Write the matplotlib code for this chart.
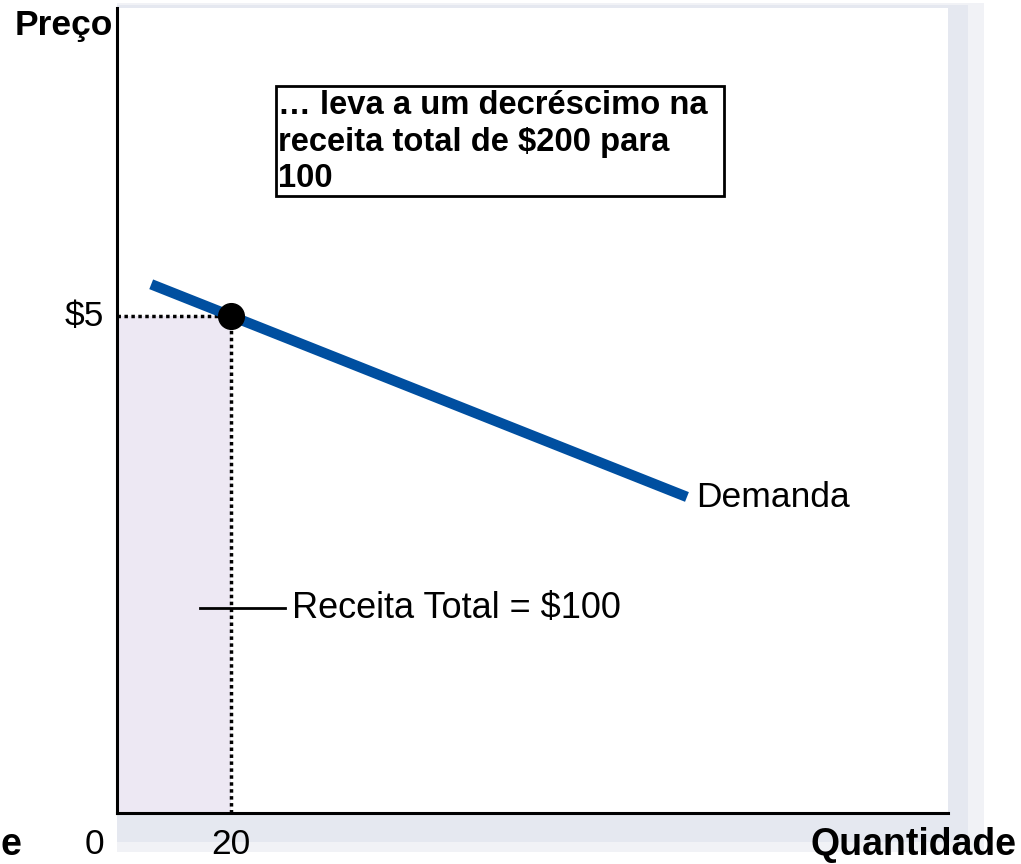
import matplotlib
matplotlib.use('Agg')
import matplotlib.pyplot as plt
from matplotlib.patches import Rectangle

plt.rcParams['font.family'] = ['Liberation Sans', 'DejaVu Sans']

# Daten
demanda_q = [6, 100]
demanda_p = [5.32, 3.18]
preco = 5
quantidade = 20
x_max, y_max = 145.8, 8.1

W, H = 1021, 864
fig = plt.figure(figsize=(W / 100, H / 100), dpi=100)


def fx(px):
    return px / W


def fy(py):
    return 1 - py / H


# Hintergrund-Achse für den Schatten
bg = fig.add_axes([0, 0, 1, 1], zorder=-1)
bg.set_xlim(0, W)
bg.set_ylim(H, 0)
bg.axis('off')
for (x0, y0, x1, y1), col in [((117, 3, 984, 852), '#f1f2f6'),
                              ((117, 5, 968, 842), '#e5e8f0')]:
    bg.add_patch(Rectangle((x0, y0), x1 - x0, y1 - y0, color=col, lw=0))

ax = fig.add_axes([fx(117), fy(813), fx(948) - fx(117), fy(8) - fy(813)], zorder=1)
ax.set_xlim(0, x_max)
ax.set_ylim(0, y_max)
ax.set_facecolor('white')
ax.set_xticks([])
ax.set_yticks([])
for s in ['top', 'right']:
    ax.spines[s].set_visible(False)
for s in ['left', 'bottom']:
    ax.spines[s].set_linewidth(2.2)
    ax.spines[s].set_color('black')

# Receita total
ax.add_patch(Rectangle((0, 0), quantidade, preco, color='#ede8f3', zorder=1, lw=0))
ax.plot([0, quantidade], [preco, preco], color='black', lw=2.5,
        linestyle=(0, (1, 1)), zorder=2)
ax.plot([quantidade, quantidade], [0, preco], color='black', lw=2.5,
        linestyle=(0, (1, 1)), zorder=2)

# Nachfrage
ax.plot(demanda_q, demanda_p, color='#004fa0', lw=7.5, solid_capstyle='butt', zorder=3)
ax.plot([quantidade], [preco], 'o', color='black', markersize=18.5, zorder=4)
ax.text(101.6, 3.17, 'Demanda', fontsize=25.5, ha='left', va='center')

ax.plot([14.6, 29.5], [2.06, 2.06], color='black', lw=2, zorder=3)
ax.text(30.7, 2.06, 'Receita Total = $100', fontsize=26, ha='left', va='center')

# Textkasten
ax.add_patch(Rectangle((27.9, 6.21), 78.6, 1.11, fill=False, edgecolor='black',
                       lw=2, zorder=3))
ax.text(28.2, 7.27, '… leva a um decréscimo na\nreceita total de $200 para\n100',
        fontsize=23.6, fontweight='bold', ha='left', va='top', linespacing=1.22,
        zorder=4)

# Achsenbeschriftungen
ax.text(-2.2, preco, '$5', fontsize=25.5, ha='right', va='center', clip_on=False)
ax.text(-3.9, -0.32, '0', fontsize=25.5, ha='center', va='center', clip_on=False)
ax.text(quantidade, -0.32, '20', fontsize=25.5, ha='center', va='center', clip_on=False)
fig.text(fx(113), fy(25), 'Preço', fontsize=25.5, fontweight='bold', ha='right', va='center')
fig.text(fx(1016), fy(845), 'Quantidade', fontsize=27, fontweight='bold',
         ha='right', va='center')
fig.text(fx(0), fy(845), 'e', fontsize=27, fontweight='bold', ha='left', va='center')

fig.savefig('out.png', dpi=100, facecolor='white')
